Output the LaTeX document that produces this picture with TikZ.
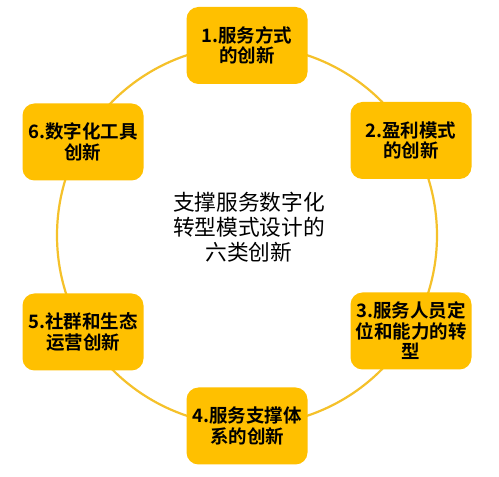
\documentclass[tikz,border=0pt]{standalone}
\usepackage{fontspec}
\setmainfont{Noto Sans CJK SC}
\newfontfamily\cjkbold{Noto Sans CJK SC Bold}
\definecolor{boxyellow}{HTML}{FFC000}
\definecolor{ringyellow}{HTML}{F5C12A}
\begin{document}
\begin{tikzpicture}[x=1pt,y=1pt,
  itembox/.style={fill=boxyellow, rounded corners=12pt, minimum width=121pt, minimum height=77pt,
    align=center, font=\cjkbold\fontsize{18.5}{20.5}\selectfont, text=black, inner sep=0pt},
  ring/.style={draw=ringyellow, line width=2.2pt}]
\useasboundingbox (0,0) rectangle (499,477);
\fill[white] (0,0) rectangle (499,477);
\coordinate (c) at (247,241.5);
\draw[ring] (c) circle (190);
\node[itembox] (b1) at (247,431.5) {1.服务方式\\的创新};
\node[itembox] (b2) at (411,336.5) {2.盈利模式\\的创新};
\node[itembox] (b3) at (411,146) {3.服务人员定\\位和能力的转\\型};
\node[itembox] (b4) at (247,51) {4.服务支撑体\\系的创新};
\node[itembox] (b5) at (83,145) {5.社群和生态\\运营创新};
\node[itembox] (b6) at (83,335) {6.数字化工具\\创新};
\node[align=center, font=\fontsize{21.7}{25}\selectfont] (t) at (249,250) {支撑服务数字化\\转型模式设计的\\六类创新};
\end{tikzpicture}
\end{document}
